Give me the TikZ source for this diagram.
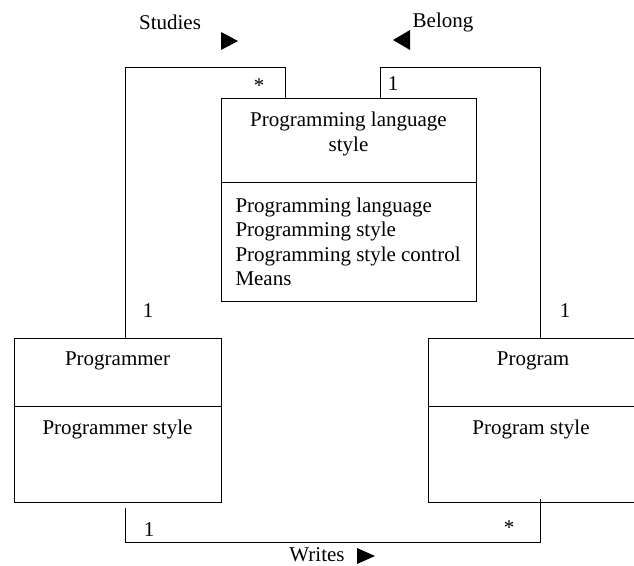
\documentclass[tikz,border=0pt]{standalone}
\usepackage{fontspec}
\setmainfont{Liberation Serif}
\begin{document}
\begin{tikzpicture}[x=1pt,y=-1pt,
  line width=1pt,
  cls/.style={draw, rectangle, inner sep=0pt, anchor=north west},
  txt/.style={inner sep=0pt, font=\fontsize{21}{24.5}\selectfont},
  mult/.style={inner sep=0pt, font=\fontsize{21}{24.5}\selectfont},
  tri/.style={fill=black, draw=none}]
\useasboundingbox (0,0) rectangle (634,565);
\clip (0,0) rectangle (634,565);

% classes
\node[cls, minimum width=255pt, minimum height=203pt] (pls) at (221,98) {};
\node[cls, minimum width=207pt, minimum height=164pt] (pgr) at (14,338) {};
\node[cls, minimum width=209pt, minimum height=164pt] (prg) at (428,338) {};

% dividers
\coordinate (d1) at (221,182); \coordinate (d2) at (14,406); \coordinate (d3) at (428,406);
\draw (d1) -- (d1 -| pls.east);
\draw (d2) -- (d2 -| pgr.east);
\draw (d3) -- (d3 -| prg.east);

% texts
\node[txt, align=center] (plsT) at (348.5,134) {Programming language\\style};
\node[txt, align=left, anchor=west] (plsA) at (235,242) {Programming language\\Programming style\\Programming style control\\Means};
\node[txt] (pgrT) at (117.5,361) {Programmer};
\node[txt] (pgrA) at (117.5,429) {Programmer style};
\node[txt] (prgT) at (533,361) {Program};
\node[txt] (prgA) at (531,429) {Program style};

% Studies association
\coordinate (s1) at (125.7,67); \coordinate (s2) at (285,67);
\draw (pgr.north -| s1) -- (s1) -- (s2) -- (s2 |- pls.north);
% Belong association
\coordinate (b1) at (380,67); \coordinate (b2) at (540,67);
\draw (pls.north -| b1) -- (b1) -- (b2) -- (b2 |- prg.north);
% Writes association
\coordinate (w0) at (125.7,508); \coordinate (w1) at (125.7,542);
\coordinate (w2) at (540,542); \coordinate (w3) at (540,499);
\draw (w0) -- (w1) -- (w2) -- (w3);

% multiplicities
\node[mult] (m1) at (259,86) {*};
\node[mult] (m2) at (393,84) {1};
\node[mult] (m3) at (148,311) {1};
\node[mult] (m4) at (565,311) {1};
\node[mult] (m5) at (149,530) {1};
\node[mult] (m6) at (509,528) {*};

% association names
\node[txt] (lStudies) at (170,22) {Studies};
\node[txt] (lBelong) at (443,22) {Belong};
\node[txt] (lWrites) at (317,555) {Writes};
\fill[tri] (221,32) -- (221,50) -- (238,41) -- cycle;
\fill[tri] (410,30) -- (410,50) -- (393,40) -- cycle;
\fill[tri] (357,548) -- (357,564) -- (375,556) -- cycle;
\end{tikzpicture}
\end{document}
